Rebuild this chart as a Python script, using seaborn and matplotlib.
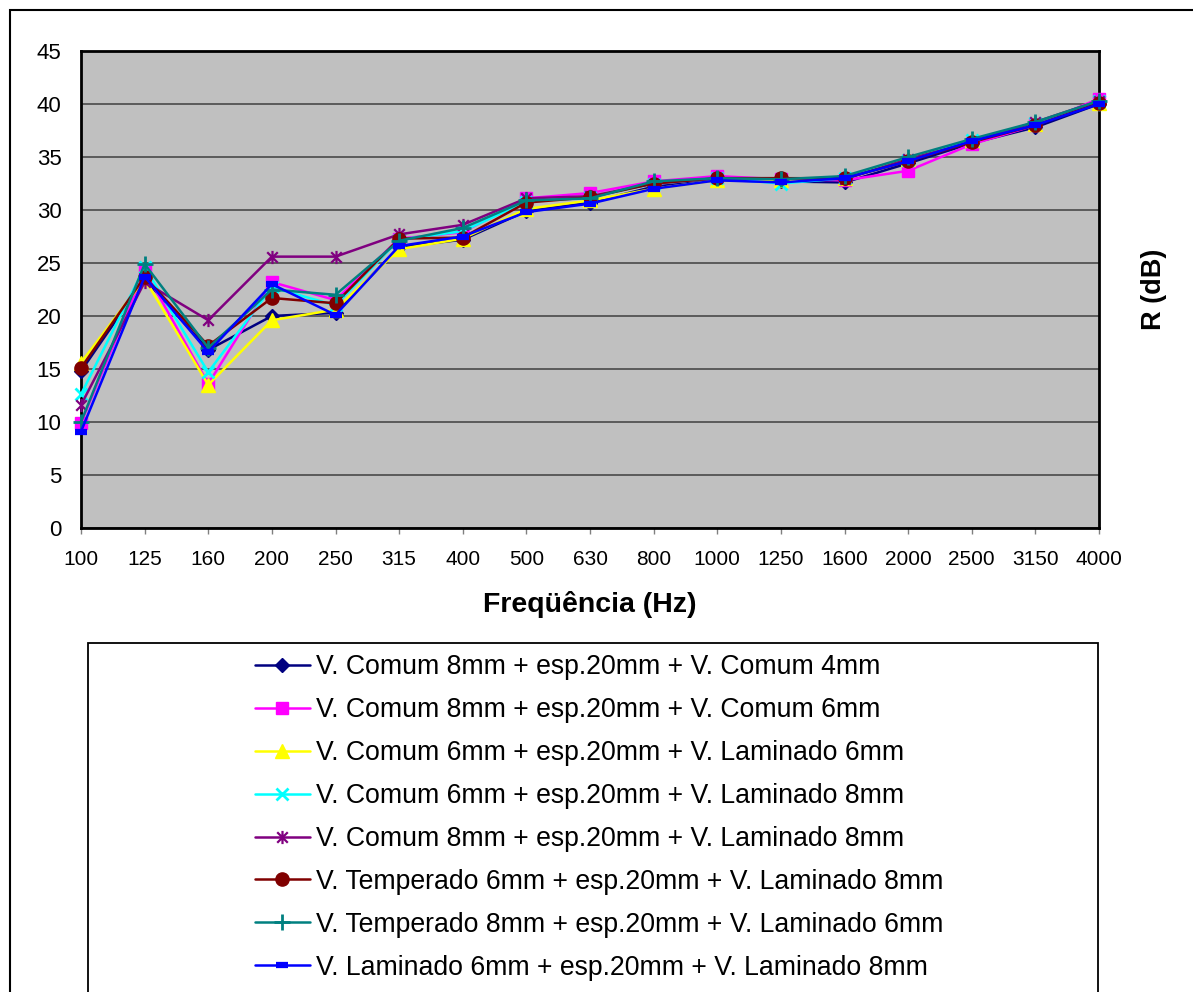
import numpy as np
import pandas as pd
import matplotlib
matplotlib.use("Agg")
import matplotlib.pyplot as plt
from matplotlib.path import Path
from matplotlib.patches import Rectangle
import seaborn as sns

# One-third octave bands (Hz)
frequencias = ["100", "125", "160", "200", "250", "315", "400", "500", "630",
               "800", "1000", "1250", "1600", "2000", "2500", "3150", "4000"]

# Sound reduction index R (dB) for each glazing configuration
comum8_comum4 = [14.8, 23.5, 16.8, 20.0, 20.3, 26.5, 27.2, 29.9, 30.7, 32.2, 32.8, 32.7, 32.6, 34.4, 36.3, 37.8, 40.0]
comum8_comum6 = [9.9, 24.3, 13.6, 23.2, 21.5, 27.3, 27.9, 31.1, 31.6, 32.7, 33.2, 32.9, 32.8, 33.7, 36.2, 38.0, 40.5]
comum6_lam6 = [15.6, 23.5, 13.5, 19.6, 20.6, 26.3, 27.3, 30.1, 30.9, 32.0, 32.8, 32.8, 33.0, 34.8, 36.6, 38.1, 40.1]
comum6_lam8 = [12.6, 24.6, 14.7, 22.7, 21.0, 27.2, 28.0, 30.8, 31.2, 32.5, 33.0, 32.5, 33.0, 34.7, 36.6, 38.2, 40.3]
comum8_lam8 = [11.6, 23.2, 19.6, 25.6, 25.6, 27.7, 28.6, 31.1, 31.3, 32.5, 33.0, 33.0, 32.9, 34.8, 36.4, 38.3, 40.3]
temp6_lam8 = [15.1, 23.7, 17.2, 21.7, 21.2, 27.3, 27.4, 30.7, 31.2, 32.5, 33.0, 33.0, 33.0, 34.6, 36.4, 38.0, 40.1]
temp8_lam6 = [10.0, 24.9, 17.0, 22.5, 22.0, 27.1, 28.3, 30.9, 31.1, 32.7, 33.0, 32.9, 33.2, 35.0, 36.7, 38.3, 40.3]
lam6_lam8 = [9.1, 23.7, 16.6, 23.0, 20.1, 26.6, 27.5, 29.8, 30.6, 32.0, 32.8, 32.6, 33.0, 34.6, 36.5, 38.0, 40.0]

rotulos = [
    "V. Comum 8mm + esp.20mm + V. Comum 4mm",
    "V. Comum 8mm + esp.20mm + V. Comum 6mm",
    "V. Comum 6mm + esp.20mm + V. Laminado 6mm",
    "V. Comum 6mm + esp.20mm + V. Laminado 8mm",
    "V. Comum 8mm + esp.20mm + V. Laminado 8mm",
    "V. Temperado 6mm + esp.20mm + V. Laminado 8mm",
    "V. Temperado 8mm + esp.20mm + V. Laminado 6mm",
    "V. Laminado 6mm + esp.20mm + V. Laminado 8mm",
]
series = [comum8_comum4, comum8_comum6, comum6_lam6, comum6_lam8,
          comum8_lam8, temp6_lam8, temp8_lam6, lam6_lam8]

df = pd.concat(
    [pd.DataFrame({"Freq": frequencias, "R": vals, "Serie": nome})
     for nome, vals in zip(rotulos, series)],
    ignore_index=True,
)

# Star marker: vertical bar crossed by an X
star = Path([(0, -1), (0, 1), (-0.8, -0.8), (0.8, 0.8), (-0.8, 0.8), (0.8, -0.8)],
            [Path.MOVETO, Path.LINETO] * 3)

estilos = [
    dict(color="#000080", marker="D", markersize=7.5, mfc="#000080", mec="#000080", mew=1),
    dict(color="#FF00FF", marker="s", markersize=8, mfc="#FF00FF", mec="#FF00FF", mew=1),
    dict(color="#FFFF00", marker="^", markersize=9.5, mfc="#FFFF00", mec="#FFFF00", mew=1),
    dict(color="#00FFFF", marker="x", markersize=9, mfc="none", mec="#00FFFF", mew=2),
    dict(color="#800080", marker=star, markersize=9.5, mfc="none", mec="#800080", mew=1.6),
    dict(color="#800000", marker="o", markersize=9.5, mfc="#800000", mec="#800000", mew=1),
    dict(color="#008080", marker="+", markersize=11, mfc="none", mec="#008080", mew=2),
    dict(color="#0000FF", marker="_", markersize=8, mfc="#0000FF", mec="#0000FF", mew=4.5),
]

sns.set_style("white")
plt.rcParams["font.family"] = ["Liberation Sans", "DejaVu Sans"]
plt.rcParams["text.color"] = "black"
plt.rcParams["axes.labelcolor"] = "black"
plt.rcParams["xtick.color"] = "black"
plt.rcParams["ytick.color"] = "black"

fig = plt.figure(figsize=(11.93, 9.92), dpi=100)
ax = fig.add_axes([81 / 1193, 1 - 528 / 992, (1099 - 81) / 1193, (528 - 51) / 992])
ax.set_facecolor("#C0C0C0")

for nome, est in zip(rotulos, estilos):
    sub = df[df["Serie"] == nome]
    sns.lineplot(data=sub, x="Freq", y="R", ax=ax, sort=False, legend=False,
                 linewidth=1.8, clip_on=False, zorder=3, **est)

ax.set_xlim(0, len(frequencias) - 1)
ax.set_ylim(0, 45)
ax.set_yticks(np.arange(0, 46, 5))
ax.yaxis.grid(True, color="#404040", linewidth=1.1)
ax.xaxis.grid(False)
ax.set_axisbelow(True)
for sp in ax.spines.values():
    sp.set_color("black")
    sp.set_linewidth(2)

ax.tick_params(axis="y", length=0, pad=14, labelsize=16, labelcolor="black")
ax.tick_params(axis="x", length=4, width=1, color="#808080", direction="out",
               pad=12, labelsize=15, bottom=True, labelcolor="black")

ax.set_xlabel("Freqüência (Hz)", fontsize=20.5, fontweight="bold", labelpad=16,
              color="black")
ax.yaxis.set_label_position("right")
ax.set_ylabel("R (dB)", fontsize=19.5, fontweight="bold", labelpad=30, rotation=90,
              color="black")

# Outer chart border and legend frame
fig.patches.append(Rectangle((10 / 1193, -0.05), 1.2, 1 - 10 / 992 + 0.05,
                             transform=fig.transFigure, fill=False,
                             edgecolor="black", linewidth=1.5, zorder=0))
fig.patches.append(Rectangle((88 / 1193, -0.05), (1098 - 88) / 1193, 1 - 643 / 992 + 0.05,
                             transform=fig.transFigure, fill=False,
                             edgecolor="black", linewidth=1.3, zorder=0))

fig.legend(ax.get_lines()[:len(rotulos)], rotulos, loc="upper left",
           bbox_to_anchor=(255 / 1193, 1 - 654 / 992), frameon=False,
           fontsize=19.2, borderpad=0, borderaxespad=0, handlelength=2.05,
           handletextpad=0.22, labelspacing=0.636, labelcolor="black")

fig.savefig("out.png", dpi=100)
